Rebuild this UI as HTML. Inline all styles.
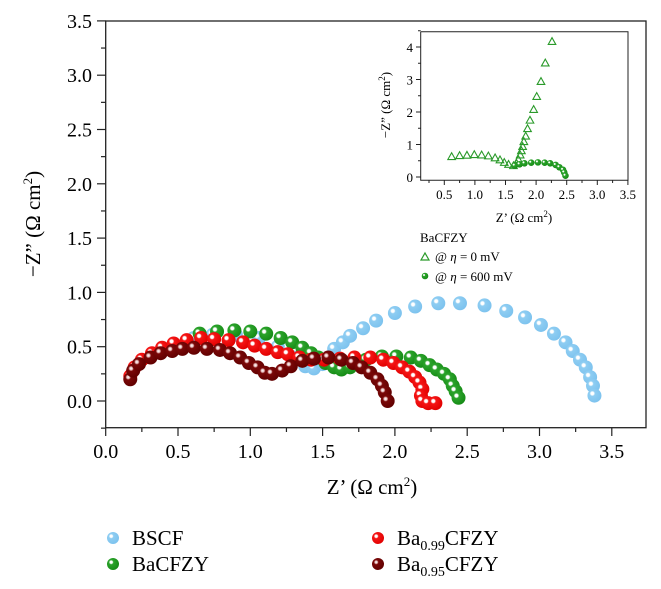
<!DOCTYPE html>
<html><head><meta charset="utf-8"><style>
body{margin:0;background:#fff}
svg{display:block;font-family:"Liberation Serif",serif}
</style></head><body>
<svg id="c" width="661" height="589">
<defs>
<radialGradient id="gB" cx="0.35" cy="0.35" r="0.7"><stop offset="0" stop-color="#ffffff"/><stop offset="0.15" stop-color="#ffffff"/><stop offset="0.28" stop-color="#8ecdf2"/><stop offset="1" stop-color="#7cc2ee"/></radialGradient>
<radialGradient id="gG" cx="0.35" cy="0.35" r="0.7"><stop offset="0" stop-color="#ffffff"/><stop offset="0.15" stop-color="#ffffff"/><stop offset="0.28" stop-color="#2ba32b"/><stop offset="1" stop-color="#158a15"/></radialGradient>
<radialGradient id="gR" cx="0.35" cy="0.35" r="0.7"><stop offset="0" stop-color="#ffffff"/><stop offset="0.15" stop-color="#ffffff"/><stop offset="0.28" stop-color="#f51515"/><stop offset="1" stop-color="#e00000"/></radialGradient>
<radialGradient id="gD" cx="0.35" cy="0.35" r="0.7"><stop offset="0" stop-color="#ffffff"/><stop offset="0.15" stop-color="#e8c0c0"/><stop offset="0.28" stop-color="#7a0808"/><stop offset="1" stop-color="#600000"/></radialGradient>
</defs>
<g id="main"></g><g id="inset"></g>
<text x="40" y="224" font-size="21" text-anchor="middle" transform="rotate(-90 40 224)">−Z” (Ω cm<tspan font-size="13" dy="-8">2</tspan><tspan dy="8">)</tspan></text>
<text x="372" y="494" font-size="21" text-anchor="middle">Z’ (Ω cm<tspan font-size="13" dy="-8">2</tspan><tspan dy="8">)</tspan></text>
<g font-size="21">
<circle cx="113" cy="538" r="6" fill="url(#gB)"/><text x="132" y="545">BSCF</text>
<circle cx="113" cy="564" r="6" fill="url(#gG)"/><text x="132" y="571">BaCFZY</text>
<circle cx="378" cy="538" r="6" fill="url(#gR)"/><text x="397" y="545">Ba<tspan font-size="14" dy="5">0.99</tspan><tspan dy="-5">CFZY</tspan></text>
<circle cx="378" cy="564" r="6" fill="url(#gD)"/><text x="397" y="571">Ba<tspan font-size="14" dy="5">0.95</tspan><tspan dy="-5">CFZY</tspan></text>
</g>
<g font-size="13">
<text x="420" y="242">BaCFZY</text>
<polygon points="421,260 425,253 429,260" fill="none" stroke="#2a9a2a" stroke-width="1.2"/><text x="435" y="261">@ <tspan font-style="italic">η</tspan> = 0 mV</text>
<circle cx="425" cy="276" r="3.3" fill="url(#gG)"/><text x="435" y="281">@ <tspan font-style="italic">η</tspan> = 600 mV</text>
</g>
</svg>
<script>
const bscf=[[0.48,0.51],[0.61,0.58],[0.74,0.61],[0.90,0.61],[1.06,0.58],[1.19,0.50],[1.30,0.40],[1.38,0.32],[1.44,0.30],[1.50,0.34],[1.54,0.40],[1.58,0.48],[1.64,0.54],[1.69,0.60],[1.78,0.67],[1.87,0.74],[2.00,0.81],[2.14,0.87],[2.30,0.90],[2.45,0.90],[2.62,0.88],[2.77,0.83],[2.90,0.77],[3.01,0.70],[3.10,0.62],[3.18,0.54],[3.23,0.46],[3.28,0.38],[3.32,0.31],[3.35,0.22],[3.37,0.14],[3.38,0.05]];
const bacfzy=[[0.65,0.62],[0.77,0.64],[0.89,0.65],[1.00,0.64],[1.11,0.62],[1.21,0.58],[1.29,0.54],[1.36,0.49],[1.42,0.44],[1.47,0.40],[1.52,0.35],[1.58,0.31],[1.63,0.29],[1.69,0.31],[1.75,0.35],[1.80,0.38],[1.91,0.41],[2.01,0.41],[2.11,0.40],[2.18,0.37],[2.24,0.33],[2.29,0.29],[2.34,0.25],[2.38,0.20],[2.40,0.14],[2.42,0.09],[2.44,0.03]];
const ba099=[[0.17,0.23],[0.20,0.31],[0.25,0.38],[0.32,0.44],[0.39,0.49],[0.47,0.53],[0.56,0.56],[0.66,0.58],[0.75,0.57],[0.85,0.56],[0.95,0.54],[1.03,0.51],[1.11,0.48],[1.19,0.45],[1.26,0.43],[1.34,0.40],[1.42,0.38],[1.51,0.38],[1.62,0.39],[1.72,0.40],[1.83,0.40],[1.92,0.38],[1.99,0.35],[2.05,0.31],[2.10,0.27],[2.14,0.22],[2.17,0.17],[2.19,0.11],[2.18,0.05],[2.19,0.00],[2.23,-0.02],[2.28,-0.02]];
const ba095=[[0.17,0.20],[0.19,0.28],[0.23,0.34],[0.31,0.40],[0.38,0.44],[0.46,0.46],[0.53,0.48],[0.61,0.49],[0.70,0.48],[0.79,0.47],[0.86,0.44],[0.93,0.40],[0.99,0.35],[1.05,0.31],[1.10,0.26],[1.15,0.25],[1.22,0.28],[1.28,0.32],[1.36,0.37],[1.44,0.39],[1.54,0.40],[1.63,0.38],[1.71,0.35],[1.77,0.31],[1.83,0.26],[1.88,0.20],[1.91,0.14],[1.93,0.08],[1.95,0.00]];
const inset0=[[0.62,0.63],[0.75,0.66],[0.87,0.67],[0.99,0.69],[1.11,0.68],[1.22,0.65],[1.33,0.59],[1.41,0.53],[1.48,0.45],[1.55,0.39],[1.63,0.35],[1.68,0.42],[1.71,0.54],[1.74,0.68],[1.76,0.81],[1.78,0.94],[1.80,1.09],[1.83,1.26],[1.86,1.49],[1.90,1.75],[1.96,2.08],[2.01,2.48],[2.08,2.94],[2.15,3.51],[2.26,4.17]];
const inset600=[[1.65,0.35],[1.73,0.39],[1.81,0.42],[1.92,0.44],[2.03,0.45],[2.14,0.44],[2.23,0.42],[2.32,0.37],[2.38,0.30],[2.44,0.22],[2.46,0.14],[2.48,0.04]];
const mainXTicks=["0.0","0.5","1.0","1.5","2.0","2.5","3.0","3.5"];
const mainYTicks=["0.0","0.5","1.0","1.5","2.0","2.5","3.0","3.5"];
const insetXTicks=["0.5","1.0","1.5","2.0","2.5","3.0","3.5"];
const insetYTicks=["0","1","2","3","4"];

const NS="http://www.w3.org/2000/svg";
function mk(p,t,a){const e=document.createElementNS(NS,t);for(const k in a)e.setAttribute(k,a[k]);p.appendChild(e);return e;}
const X=v=>105.7+v*144.6, Y=v=>401-v*108.6;
const m=document.getElementById('main');
const frame=mk(m,'rect',{x:105.7,y:21,width:540.3,height:406.7,fill:'none',stroke:'#222','stroke-width':1.3});


mainXTicks.forEach((t,i)=>{const v=+t;const x=X(v);
 mk(m,'line',{x1:x,y1:427.7,x2:x,y2:436,stroke:'#222','stroke-width':1.2});
 if(v+0.25<3.74)mk(m,'line',{x1:X(v+0.25),y1:427.7,x2:X(v+0.25),y2:432,stroke:'#222','stroke-width':1.2});
 const tx=mk(m,'text',{x:x,y:458,'font-size':20,'text-anchor':'middle'});tx.textContent=t;
 
 });
mainYTicks.forEach((t,i)=>{const v=+t;const y=Y(v);
 mk(m,'line',{x1:97,y1:y,x2:105.7,y2:y,stroke:'#222','stroke-width':1.2});
 mk(m,'line',{x1:101,y1:Y(v-0.25),x2:105.7,y2:Y(v-0.25),stroke:'#222','stroke-width':1.2});
 const tx=mk(m,'text',{x:92,y:y+7,'font-size':20,'text-anchor':'end'});tx.textContent=t;
 
 });
function series(data,grad,name){const g=mk(m,'g',{});
 
 
 data.forEach(d=>mk(g,'circle',{cx:X(d[0]),cy:Y(d[1]),r:7,fill:'url(#'+grad+')'}));}
series(bscf,'gB','series-bscf');
series(bacfzy,'gG','series-bacfzy');
series(ba099,'gR','series-ba099cfzy');
series(ba095,'gD','series-ba095cfzy');
const IX=v=>413.7+v*61.2, IY=v=>177-v*32.5;
const n=document.getElementById('inset');
const ifr=mk(n,'path',{d:'M420.7 31.7 V180.3 H628 V31.7 H420.7',fill:'none',stroke:'#222','stroke-width':1});


insetXTicks.forEach(t=>{const v=+t;const x=IX(v);
 mk(n,'line',{x1:x,y1:180.3,x2:x,y2:185,stroke:'#222','stroke-width':1});
 if(v-0.25>0.11)mk(n,'line',{x1:IX(v-0.25),y1:180.3,x2:IX(v-0.25),y2:183,stroke:'#222','stroke-width':1});
 const tx=mk(n,'text',{x:x,y:199,'font-size':13,'text-anchor':'middle'});tx.textContent=t;
 
 });
insetYTicks.forEach(t=>{const v=+t;const y=IY(v);
 mk(n,'line',{x1:416,y1:y,x2:420.7,y2:y,stroke:'#222','stroke-width':1});
 mk(n,'line',{x1:418,y1:IY(v+0.5),x2:420.7,y2:IY(v+0.5),stroke:'#222','stroke-width':1});
 const tx=mk(n,'text',{x:413,y:y+5,'font-size':13,'text-anchor':'end'});tx.textContent=t;
 
 });
const ixt=mk(n,'text',{x:524,y:222,'font-size':13,'text-anchor':'middle'});
ixt.innerHTML='Z’ (Ω cm<tspan font-size="9" dy="-5">2</tspan><tspan dy="5">)</tspan>';


const iyt=mk(n,'text',{x:390,y:105,'font-size':13,'text-anchor':'middle',transform:'rotate(-90 390 105)'});
iyt.innerHTML='−Z” (Ω cm<tspan font-size="9" dy="-5">2</tspan><tspan dy="5">)</tspan>';


const g0=mk(n,'g',{});


inset0.forEach(d=>{const x=IX(d[0]),y=IY(d[1]);mk(g0,'polygon',{points:`${x-3.8},${y+3} ${x},${y-3.8} ${x+3.8},${y+3}`,fill:'none',stroke:'#2a9a2a','stroke-width':1.1});});
const g6=mk(n,'g',{});


inset600.forEach(d=>mk(g6,'circle',{cx:IX(d[0]),cy:IY(d[1]),r:3.3,fill:'url(#gG)'}));
</script>
</body></html>
